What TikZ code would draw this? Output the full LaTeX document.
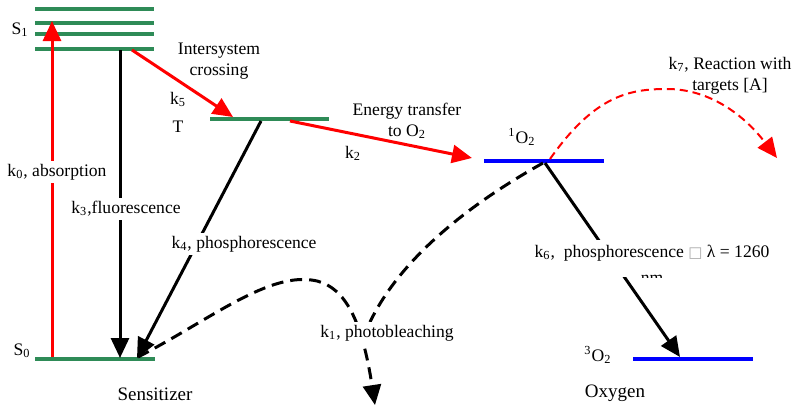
\documentclass[tikz,border=0pt]{standalone}
\usepackage{fontspec}
\setmainfont{Liberation Serif}
\newfontfamily\symfnt{DejaVu Sans}
\usetikzlibrary{arrows.meta}
\definecolor{lvlgreen}{RGB}{46,139,87}
\definecolor{boxgray}{RGB}{170,170,170}
\begin{document}
\begin{tikzpicture}[x=0.5pt,y=-0.5pt,
  level/.style={line width=1.8pt},
  tip/.style={-{Triangle[length=10pt,width=9pt]}},
  conn/.style={line width=1.5pt,tip},
  rdash/.style={red,line width=1pt,dash pattern=on 4pt off 2.5pt},
  kdash/.style={black,line width=1.5pt,dash pattern=on 6pt off 3.5pt},
  lab/.style={font=\rmfamily\fontsize{8.8}{10.5}\selectfont, inner sep=1pt, align=center},
  biglab/.style={lab, font=\rmfamily\fontsize{9.5}{11}\selectfont},
  cover/.style={lab, fill=white, inner sep=1.5pt}]
\useasboundingbox (0,0) rectangle (800,412);
% energy levels
\foreach \y/\n in {9/a,23/b,34/c,49/d}{
  \coordinate (s1\n L) at (35,\y); \coordinate (s1\n R) at (154,\y);
  \draw[level,lvlgreen] (s1\n L) -- (s1\n R);}
\coordinate (s0L) at (35,359); \coordinate (s0R) at (155,359);
\coordinate (tL) at (210,119); \coordinate (tR) at (329,119);
\coordinate (o1L) at (484,161); \coordinate (o1R) at (604,161);
\coordinate (o3L) at (633,359); \coordinate (o3R) at (753,359);
\draw[level,lvlgreen] (s0L) -- (s0R);
\draw[level,lvlgreen] (tL) -- (tR);
\draw[level,blue] (o1L) -- (o1R);
\draw[level,blue] (o3L) -- (o3R);
% connector end points
\coordinate (absA) at (52,357); \coordinate (absB) at (52,21);
\coordinate (flA) at (120,50); \coordinate (flB) at (120,358);
\coordinate (iscA) at (132,50); \coordinate (iscB) at (233,117);
\coordinate (phA) at (261,121); \coordinate (phB) at (137,358);
\coordinate (etA) at (290,121); \coordinate (etB) at (472,158);
\coordinate (k6A) at (545,163); \coordinate (k6B) at (680,357);
\coordinate (rxA) at (550,159); \coordinate (rxB) at (777,158);
\coordinate (pbA) at (138,357); \coordinate (pbB) at (375,405);
\coordinate (pcA) at (543,163); \coordinate (pcB) at (370,322);
% solid arrows
\draw[conn,red] (absA) -- (absB);
\draw[conn,black] (flA) -- (flB);
\draw[conn,red] (iscA) -- (iscB);
\draw[conn,black] (phA) -- (phB);
\draw[conn,red] (etA) -- (etB);
\draw[conn,black] (k6A) -- (k6B);
% dashed curves
\draw[rdash,tip] (rxA) .. controls (595,95) and (630,89) .. (667,89)
   .. controls (705,89) and (740,110) .. (rxB);
\draw[kdash,tip] (pbA) .. controls (210,320) and (270,270) .. (317,281)
   .. controls (345,288) and (362,320) .. (pbB);
\draw[kdash] (pcA) .. controls (450,215) and (395,270) .. (pcB);
% labels covering lines
\node[cover] (k0) at (57,172) {k\textsubscript{0}, absorption};
\node[cover] (k3) at (126,209) {k\textsubscript{3},fluorescence};
\node[cover] (k4) at (244,244) {k\textsubscript{4}, phosphorescence};
\node[cover] (k1) at (387,333) {k\textsubscript{1}, photobleaching};
\fill[white] (592,240) rectangle (772,277);
\node[lab] (k6) at (652,253) {k\textsubscript{6},\ \ phosphorescence {\symfnt\color{boxgray}\fontsize{7.5}{9}\selectfont □} λ = 1260};
\begin{scope}
  \clip (600,262) rectangle (700,277);
  \node[lab] (nm) at (652,279) {nm};
\end{scope}
% other labels
\node[lab] (S1) at (20,30) {S\textsubscript{1}};
\node[lab] (S0) at (22,351) {S\textsubscript{0}};
\node[lab] (isc) at (219,61) {Intersystem\\crossing};
\node[lab] (k5) at (178,99) {k\textsubscript{5}};
\node[lab] (T) at (178,127) {T};
\node[lab] (et) at (407,121) {Energy transfer\\to O\textsubscript{2}};
\node[lab] (k2) at (353,153) {k\textsubscript{2}};
\node[lab] (o1) at (522,137) {\textsuperscript{1}O\textsubscript{2}};
\node[lab] (k7) at (730,76) {k\textsubscript{7}, Reaction with\\targets [A]};
\node[lab] (o3) at (598,355) {\textsuperscript{3}O\textsubscript{2}};
\node[biglab] (sens) at (155,394) {Sensitizer};
\node[biglab] (oxy) at (615,393) {Oxygen};
\end{tikzpicture}
\end{document}
